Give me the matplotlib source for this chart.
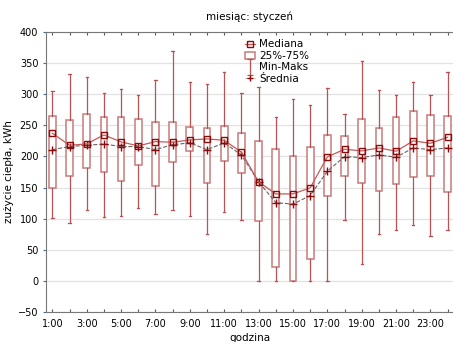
import numpy as np
import matplotlib
matplotlib.use('Agg')
import matplotlib.pyplot as plt
from matplotlib.lines import Line2D
from matplotlib.patches import Patch
from matplotlib.path import Path

# hourly heat use, January
hours = list(range(1, 25))
whisk_max = [304.7, 332.6, 327.2, 301.5, 309.0, 298.3, 323.5, 369.0, 319.7, 316.0, 335.8, 301.5,
             311.2, 263.0, 293.0, 282.2, 310.1, 267.8, 352.9, 307.4, 298.3, 319.7, 298.3, 335.8]
q3 = [264.6, 258.1, 267.8, 263.0, 263.0, 260.3, 256.0, 254.9, 248.0, 245.8, 248.5, 237.3,
      224.4, 211.6, 200.9, 215.3, 235.0, 233.5, 260.3, 245.3, 263.0, 273.7, 266.2, 264.6]
median = [237.3, 218.0, 220.1, 234.6, 223.4, 216.9, 223.9, 222.8, 226.6, 228.2, 226.0, 206.8,
          159.1, 139.8, 139.8, 149.5, 199.3, 211.6, 208.9, 213.7, 208.4, 225.0, 221.2, 230.9]
mean = [211.0, 215.9, 218.0, 220.0, 215.9, 215.9, 211.0, 219.0, 221.7, 211.0, 221.7, 202.5,
        159.1, 125.9, 123.3, 137.2, 176.2, 199.8, 198.2, 202.5, 198.7, 213.7, 211.0, 213.7]
q1 = [149.5, 169.3, 181.1, 174.6, 160.2, 187.0, 152.2, 190.7, 208.9, 157.5, 192.3, 173.0,
      96.0, 22.0, 0.0, 35.5, 136.1, 168.2, 157.5, 144.1, 156.4, 167.7, 168.8, 143.0]
whisk_min = [100.8, 93.8, 113.6, 102.4, 104.0, 117.4, 107.2, 113.6, 104.0, 75.0, 110.9, 97.6,
             0.0, 0.0, 0.0, 0.0, 0.0, 98.1, 26.4, 75.0, 82.0, 89.5, 71.9, 81.0]
xlabels = ['%d:00' % h for h in hours]

box_col = '#c77a7a'
whisk_col = '#b95353'
dark = '#8b0a0a'

fig = plt.figure(figsize=(4.53, 3.42), dpi=100)
ax = fig.add_axes([0.1015, 0.0877, 0.9, 0.8187])

stats = []
for i in range(len(hours)):
    stats.append(dict(med=median[i], q1=q1[i], q3=q3[i],
                      whislo=whisk_min[i], whishi=whisk_max[i], fliers=[]))

ax.bxp(stats, positions=hours, widths=0.39, patch_artist=True, showfliers=False,
       boxprops=dict(facecolor='white', edgecolor=box_col, linewidth=1.1),
       whiskerprops=dict(color=whisk_col, linewidth=0.9),
       capprops=dict(color=whisk_col, linewidth=0.9),
       capwidths=0.14,
       medianprops=dict(linewidth=0), zorder=2)

ax.plot(hours, median, color='#c55a5a', lw=0.9, marker='s', ms=5, mfc='none',
        mec=dark, mew=1.0, zorder=4)
ax.plot(hours, mean, color='#666666', lw=0.8, ls='--', marker='+', ms=6,
        mec=dark, mew=1.0, zorder=3)

ax.set_xlim(0.63, 24.35)
ax.set_ylim(-50, 400)
ax.set_yticks(np.arange(-50, 401, 50))
ax.set_xticks(hours)
ax.set_xticklabels([l if h % 2 == 1 else '' for h, l in zip(hours, xlabels)])
ax.yaxis.grid(True, color='#e2e2e2', lw=0.9)
ax.set_axisbelow(True)
ax.tick_params(axis='x', direction='in', length=2.5, top=True, labelsize=7, pad=5,
               color='#555555')
ax.tick_params(axis='y', direction='out', length=2, labelsize=7, color='#3a6ea5')
for s in ['left', 'bottom', 'top']:
    ax.spines[s].set_color('#777777')
ax.spines['right'].set_visible(False)

ax.set_title('miesiąc: styczeń', fontsize=7.5, pad=9)
ax.set_xlabel('godzina', fontsize=7.5, labelpad=3)
ax.set_ylabel('zużycie ciepła, kWh', fontsize=7.5, labelpad=3)

# custom I-shaped marker for Min-Maks
ipath = Path([(-0.35, 1), (0.35, 1), (0, 1), (0, -1), (-0.35, -1), (0.35, -1)],
             [Path.MOVETO, Path.LINETO, Path.MOVETO, Path.LINETO, Path.MOVETO, Path.LINETO])
handles = [
    Line2D([], [], color='#c55a5a', lw=0.9, marker='s', ms=4, mfc='none', mec=dark),
    Patch(facecolor='white', edgecolor=box_col, lw=1.1),
    Line2D([], [], ls='none', marker=ipath, ms=12, mfc='none', mec=whisk_col, mew=0.9),
    Line2D([], [], color='#999999', lw=0.6, ls='--', marker='+', ms=5, mec=dark),
]
ax.legend(handles, ['Mediana', '25%-75%', 'Min-Maks', 'Średnia'],
          loc='upper left', bbox_to_anchor=(0.47, 1.0), frameon=False,
          fontsize=7.5, handlelength=1.0, handletextpad=0.4, labelspacing=0.15,
          borderaxespad=0.3)

fig.savefig('out.png', dpi=100)
